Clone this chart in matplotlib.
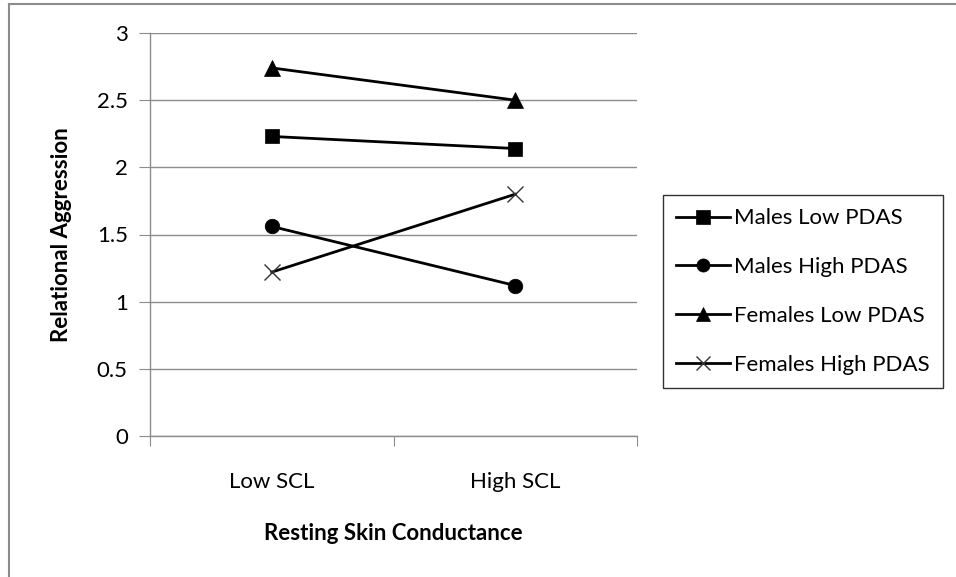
import matplotlib
matplotlib.use("Agg")
import matplotlib.pyplot as plt
from matplotlib.lines import Line2D

categories = ["Low SCL", "High SCL"]
series_names = ["Males Low PDAS", "Males High PDAS", "Females Low PDAS", "Females High PDAS"]
males_low = [2.23, 2.14]
males_high = [1.56, 1.12]
females_low = [2.74, 2.50]
females_high = [1.22, 1.80]
y_ticks = [0, 0.5, 1, 1.5, 2, 2.5, 3]
y_tick_labels = ["0", "0.5", "1", "1.5", "2", "2.5", "3"]

plt.rcParams['font.family'] = ['Lato', 'DejaVu Sans']

fig = plt.figure(figsize=(9.56, 5.77), dpi=100)
ax = fig.add_axes([150/956, 1-436/577, 487/956, 403/577])

series = [males_low, males_high, females_low, females_high]
markers = ['s', 'o', '^', 'x']
msizes = [10.5, 10.5, 11, 11]
x = [0.5, 1.5]
handles = []
for vals, name, m, ms in zip(series, series_names, markers, msizes):
    ln, = ax.plot(x, vals, color='black', lw=2, marker=m, markersize=ms,
                  markeredgewidth=1 if m == 'x' else 0.5, label=name,
                  markeredgecolor='black' if m != 'x' else '#333333')
    handles.append(ln)

ax.set_xlim(0, 2)
ax.set_ylim(0, 3)
ax.set_yticks(y_ticks)
ax.set_yticklabels(y_tick_labels)
ax.yaxis.grid(True, color='#8c8c8c', lw=1)
ax.set_axisbelow(True)
ax.set_xticks([0, 1, 2])
ax.set_xticklabels([])
ax.set_xticks(x, minor=True)
ax.set_xticklabels(categories, minor=True)
ax.tick_params(axis='x', which='minor', length=0, pad=26, labelsize=16)
ax.tick_params(axis='x', which='major', length=7, color='#8c8c8c', direction='out')
ax.tick_params(axis='y', length=8, color='#8c8c8c', pad=8, labelsize=16)
for s in ['top', 'right']:
    ax.spines[s].set_visible(False)
for s in ['left', 'bottom']:
    ax.spines[s].set_color('#8c8c8c')
    ax.spines[s].set_linewidth(1)

ax.set_xlabel("Resting Skin Conductance", fontsize=16, fontweight='bold', labelpad=22)
ax.set_ylabel("Relational Aggression", fontsize=16, fontweight='bold', labelpad=18)

leg = fig.legend(handles=handles, loc='upper left', bbox_to_anchor=(663/956, 1-195/577),
                 frameon=True, fancybox=False, edgecolor='black', fontsize=16,
                 handlelength=2.4, handletextpad=0.2, borderpad=0.6, labelspacing=1.3,
                 borderaxespad=0, markerscale=0.9)
leg.get_frame().set_linewidth(1)

# outer chart border
fig.add_artist(Line2D([9/956, 9/956], [0, 1-4/577], color='#8c8c8c', lw=1.5, transform=fig.transFigure))
fig.add_artist(Line2D([9/956, 1], [1-4/577, 1-4/577], color='#8c8c8c', lw=1.5, transform=fig.transFigure))

fig.savefig("out.png", dpi=100)
